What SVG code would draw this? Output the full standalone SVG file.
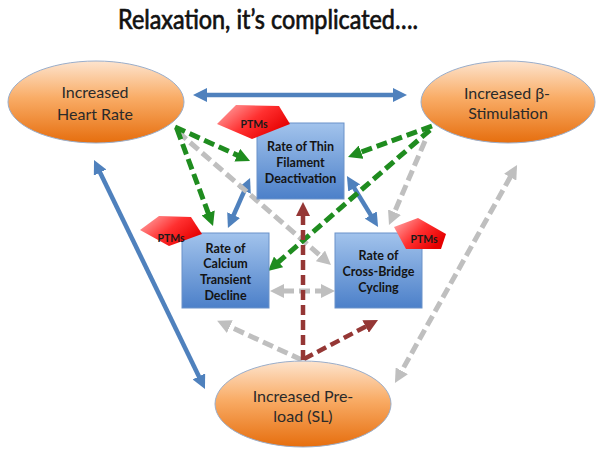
<svg xmlns="http://www.w3.org/2000/svg" width="602" height="457" viewBox="0 0 602 457">
<style>
.title{font-family:Lato,"Liberation Sans",sans-serif;font-size:26px;fill:#111;stroke:#111;stroke-width:0.7;}
.etext{font-family:Lato,"Liberation Sans",sans-serif;font-size:16px;fill:#2a2a2a;text-anchor:middle;}
.btext{font-family:Lato,"Liberation Sans",sans-serif;font-size:12.5px;font-weight:bold;fill:#141414;text-anchor:middle;}
.ptext{font-family:Lato,"Liberation Sans",sans-serif;font-size:10.5px;font-weight:bold;fill:#1a1a1a;text-anchor:middle;}
.ell{fill:url(#gOrange);stroke:#9aaecb;stroke-width:1;}
.box{fill:url(#gBlue);stroke:#6a92c9;stroke-width:1;}
.ptm{fill:url(#gRed);stroke:none;}
.blue{stroke:#4f81bd;stroke-width:4.5;fill:none;}
.green{stroke:#1f8c1f;stroke-width:5;fill:none;stroke-dasharray:11 5;}
.gray{stroke:#bfbfbf;stroke-width:5;fill:none;stroke-dasharray:11 5;}
.red{stroke:#953735;stroke-width:4.5;fill:none;stroke-dasharray:10 5;}
</style>
<defs>
<linearGradient id="gOrange" x1="0" y1="0" x2="0" y2="1">
<stop offset="0" stop-color="#fde4ce"/>
<stop offset="0.45" stop-color="#f9ac66"/>
<stop offset="1" stop-color="#e66e0e"/>
</linearGradient>
<linearGradient id="gBlue" x1="0" y1="0" x2="0" y2="1">
<stop offset="0" stop-color="#a2c3ec"/>
<stop offset="1" stop-color="#4c80c9"/>
</linearGradient>
<linearGradient id="gRed" x1="0" y1="0" x2="1" y2="0.6">
<stop offset="0" stop-color="#ffb0b0"/>
<stop offset="0.55" stop-color="#ff3030"/>
<stop offset="1" stop-color="#e60000"/>
</linearGradient>
<marker id="aBlue" viewBox="0 -7 14 14" refX="1" refY="0" markerWidth="14" markerHeight="14" markerUnits="userSpaceOnUse" orient="auto-start-reverse"><path d="M0,-7 L14,0 L0,7 z" fill="#4f81bd"/></marker>
<marker id="aGreen" viewBox="0 -7 14 14" refX="1" refY="0" markerWidth="14" markerHeight="14" markerUnits="userSpaceOnUse" orient="auto-start-reverse"><path d="M0,-7 L14,0 L0,7 z" fill="#1f8c1f"/></marker>
<marker id="aGray" viewBox="0 -7 14 14" refX="1" refY="0" markerWidth="14" markerHeight="14" markerUnits="userSpaceOnUse" orient="auto-start-reverse"><path d="M0,-7 L14,0 L0,7 z" fill="#bfbfbf"/></marker>
<marker id="aRed" viewBox="0 -7 14 14" refX="1" refY="0" markerWidth="14" markerHeight="14" markerUnits="userSpaceOnUse" orient="auto-start-reverse"><path d="M0,-7 L14,0 L0,7 z" fill="#953735"/></marker>
</defs>
<rect width="602" height="457" fill="#ffffff"/>
<text class="title" x="118" y="29" textLength="300" lengthAdjust="spacingAndGlyphs">Relaxation, it’s complicated….</text>

<g id="connectors">
<line class="blue" x1="206" y1="95" x2="394" y2="95" marker-start="url(#aBlue)" marker-end="url(#aBlue)"/>
<line class="blue" x1="99.7" y1="171.7" x2="199.3" y2="377.3" marker-start="url(#aBlue)" marker-end="url(#aBlue)"/>
<line class="blue" x1="244.8" y1="189.9" x2="233.2" y2="216.1" marker-start="url(#aBlue)" marker-end="url(#aBlue)"/>
<line class="blue" x1="353.7" y1="187.1" x2="371.3" y2="215.9" marker-start="url(#aBlue)" marker-end="url(#aBlue)"/>
<line class="gray" x1="178" y1="132" x2="321.2" y2="256.5" marker-end="url(#aGray)"/>
<line class="gray" x1="425" y1="141" x2="394.1" y2="213.1" marker-end="url(#aGray)"/>
<line class="gray" x1="510.7" y1="176.3" x2="401.3" y2="371.7" marker-start="url(#aGray)" marker-end="url(#aGray)"/>
<line class="gray" x1="283" y1="291" x2="322" y2="291" marker-start="url(#aGray)" marker-end="url(#aGray)"/>
<line class="gray" x1="302" y1="360" x2="228.9" y2="326.2" marker-end="url(#aGray)"/>
<line class="green" x1="175" y1="127" x2="238.2" y2="155.6" marker-end="url(#aGreen)"/>
<line class="green" x1="177" y1="129" x2="208.5" y2="213.8" marker-end="url(#aGreen)"/>
<line class="green" x1="432" y1="126" x2="360.2" y2="152.5" marker-end="url(#aGreen)"/>
<line class="green" x1="430" y1="130" x2="277.8" y2="262.5" marker-end="url(#aGreen)"/>
<line class="red" x1="303" y1="360" x2="303" y2="215" marker-end="url(#aRed)"/>
<line class="red" x1="304" y1="359" x2="366.5" y2="326.1" marker-end="url(#aRed)"/>
</g>

<g id="heart-rate">
<ellipse class="ell" cx="96" cy="102" rx="88" ry="41"/>
<text class="etext" x="95" y="98">Increased</text>
<text class="etext" x="95" y="119.5">Heart Rate</text>
</g>
<g id="beta-stimulation">
<ellipse class="ell" cx="508" cy="102" rx="87" ry="41"/>
<text class="etext" x="507" y="99">Increased β-</text>
<text class="etext" x="508" y="119">Stimulation</text>
</g>
<g id="preload">
<ellipse class="ell" cx="303" cy="404" rx="88" ry="43"/>
<text class="etext" x="303" y="402">Increased Pre-</text>
<text class="etext" x="303" y="422">load (SL)</text>
</g>

<g id="thin-filament">
<rect class="box" x="257" y="123" width="87" height="76"/>
<text class="btext" x="300.5" y="151">Rate of Thin</text>
<text class="btext" x="300.5" y="167">Filament</text>
<text class="btext" x="300.5" y="183">Deactivation</text>
</g>
<g id="ptm-thin">
<polygon class="ptm" points="236,105 279,106 290,124 252,139 217,124"/>
<text class="ptext" x="254" y="127.5">PTMs</text>
</g>

<g id="calcium">
<rect class="box" x="182" y="233" width="87" height="75"/>
<text class="btext" x="225.5" y="252.5">Rate of</text>
<text class="btext" x="225.5" y="268">Calcium</text>
<text class="btext" x="225.5" y="284">Transient</text>
<text class="btext" x="225.5" y="300">Decline</text>
</g>
<g id="ptm-calcium">
<polygon class="ptm" points="159,216 191,217 202,234 169,246 140,230"/>
<text class="ptext" x="171" y="241.5">PTMs</text>
</g>

<g id="cross-bridge">
<rect class="box" x="335" y="233" width="87" height="75"/>
<text class="btext" x="378.5" y="260">Rate of</text>
<text class="btext" x="378.5" y="276">Cross-Bridge</text>
<text class="btext" x="378.5" y="292">Cycling</text>
</g>
<g id="ptm-cross">
<polygon class="ptm" points="418,218 446,234 441,249 406,249 394,227"/>
<text class="ptext" x="424" y="243">PTMs</text>
</g>
</svg>
